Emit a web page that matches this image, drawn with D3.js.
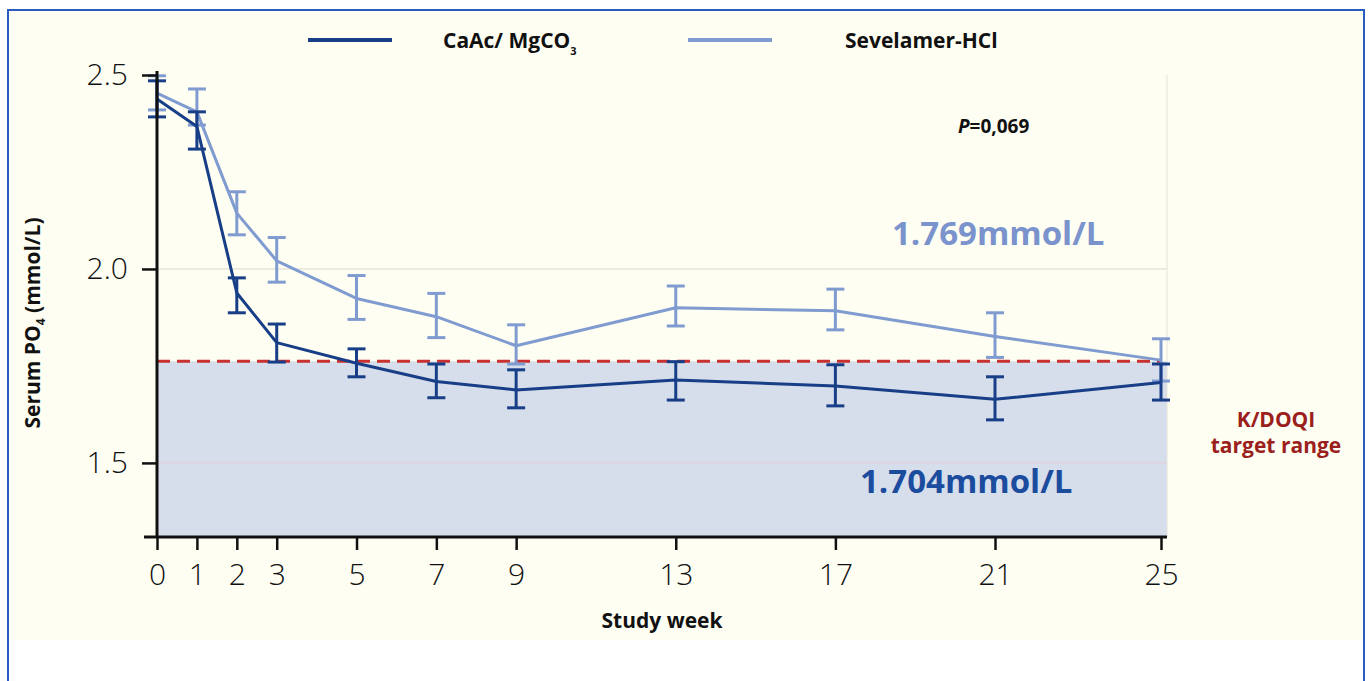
<!DOCTYPE html>
<html>
<head>
<meta charset="utf-8">
<script src="https://cdn.jsdelivr.net/npm/d3@7"></script>
<style>
  body { margin: 0; background: #fff; }
  svg { display: block; font-family: "Open Sans", "Liberation Sans", sans-serif; }
</style>
</head>
<body>
<div id="chart"></div>
<script>
// study weeks and serum phosphate (mmol/L)
const weeks = [0, 1, 2, 3, 5, 7, 9, 13, 17, 21, 25];
const caacMean  = [2.438, 2.367, 1.938, 1.810, 1.757, 1.710, 1.688, 1.714, 1.698, 1.664, 1.707];
const caacLow   = [2.392, 2.309, 1.887, 1.760, 1.722, 1.668, 1.642, 1.662, 1.647, 1.611, 1.662];
const caacHigh  = [2.485, 2.405, 1.977, 1.858, 1.794, 1.755, 1.740, 1.761, 1.753, 1.722, 1.755];
const sevMean   = [2.453, 2.405, 2.144, 2.021, 1.924, 1.877, 1.802, 1.900, 1.892, 1.826, 1.765];
const sevLow    = [2.410, 2.371, 2.088, 1.966, 1.870, 1.823, 1.755, 1.853, 1.843, 1.772, 1.711];
const sevHigh   = [2.498, 2.464, 2.199, 2.081, 1.983, 1.937, 1.856, 1.956, 1.948, 1.887, 1.820];
const yTicks = [1.5, 2.0, 2.5];
const targetLimit = 1.762;
const seriesNames = ["CaAc/ MgCO", "Sevelamer-HCl"];

const W = 1372, H = 681;
const DARK = "#173e86", LIGHT = "#7f9bcf";
const FONT = "'Open Sans', 'Liberation Sans', sans-serif";

const svg = d3.select("#chart").append("svg")
  .attr("width", W).attr("height", H);

// frame
svg.append("rect").attr("x", 9).attr("y", 11).attr("width", 1354).attr("height", 629)
  .attr("fill", "#fffef3");
svg.append("rect").attr("x", 8).attr("y", 10).attr("width", 1356).attr("height", 700)
  .attr("fill", "none").attr("stroke", "#2a5bbf").attr("stroke-width", 2);

// scales (last segment of the printed axis is a bit wider)
const x = d3.scaleLinear().domain([0, 21, 25]).range([157, 995, 1161]);
const y = d3.scaleLinear().domain([1.309, 2.5]).range([537, 75]);
const plotRight = 1167;

// target range shade
svg.append("rect")
  .attr("x", x(0)).attr("y", y(targetLimit))
  .attr("width", plotRight - x(0)).attr("height", y(1.309) - y(targetLimit))
  .attr("fill", "#d6deeb");

// grid lines
svg.append("line").attr("x1", x(0)).attr("x2", plotRight)
  .attr("y1", y(2.0)).attr("y2", y(2.0)).attr("stroke", "#d9d9cf").attr("stroke-width", 1);
svg.append("line").attr("x1", x(0)).attr("x2", plotRight)
  .attr("y1", y(1.5)).attr("y2", y(1.5)).attr("stroke", "#e6c9d2").attr("stroke-width", 1);
svg.append("line").attr("x1", plotRight).attr("x2", plotRight)
  .attr("y1", y(2.5)).attr("y2", y(1.309)).attr("stroke", "#e4e4dc").attr("stroke-width", 1);

// dashed target limit
svg.append("line").attr("x1", x(0)).attr("x2", x(25))
  .attr("y1", y(targetLimit)).attr("y2", y(targetLimit))
  .attr("stroke", "#c8312d").attr("stroke-width", 3).attr("stroke-dasharray", "13,7");

// series
function drawSeries(mean, low, high, color) {
  const g = svg.append("g");
  const line = d3.line().x((d, i) => x(weeks[i])).y(d => y(d));
  g.append("path").datum(mean).attr("d", line)
    .attr("fill", "none").attr("stroke", color).attr("stroke-width", 3)
    .attr("stroke-linejoin", "round");
  const bars = g.selectAll("g.err").data(weeks).enter().append("g")
    .attr("stroke", color).attr("stroke-width", 3);
  bars.append("line").attr("x1", d => x(d)).attr("x2", d => x(d))
    .attr("y1", (d, i) => y(low[i])).attr("y2", (d, i) => y(high[i]));
  bars.append("line").attr("x1", d => x(d) - 9).attr("x2", d => x(d) + 9)
    .attr("y1", (d, i) => y(low[i])).attr("y2", (d, i) => y(low[i]));
  bars.append("line").attr("x1", d => x(d) - 9).attr("x2", d => x(d) + 9)
    .attr("y1", (d, i) => y(high[i])).attr("y2", (d, i) => y(high[i]));
}
drawSeries(sevMean, sevLow, sevHigh, LIGHT);
drawSeries(caacMean, caacLow, caacHigh, DARK);

// axes
const xAxis = svg.append("g")
  .attr("transform", "translate(0," + y(1.309) + ")")
  .call(d3.axisBottom(x).tickValues(weeks).tickFormat(d3.format("d"))
    .tickSize(13).tickSizeOuter(0).tickPadding(14));
xAxis.attr("font-family", FONT);
xAxis.select(".domain").remove();
xAxis.selectAll(".tick line").attr("stroke", "#111").attr("stroke-width", 2.5);
xAxis.selectAll(".tick text").attr("font-size", 30).attr("font-weight", 300).attr("fill", "#111");
xAxis.append("line").attr("x1", 144).attr("x2", plotRight).attr("y1", 0).attr("y2", 0)
  .attr("stroke", "#111").attr("stroke-width", 3);

const yAxis = svg.append("g")
  .attr("transform", "translate(" + x(0) + ",0)")
  .call(d3.axisLeft(y).tickValues(yTicks).tickFormat(d3.format(".1f"))
    .tickSize(15).tickSizeOuter(0).tickPadding(14));
yAxis.attr("font-family", FONT);
yAxis.select(".domain").remove();
yAxis.selectAll(".tick line").attr("stroke", "#111").attr("stroke-width", 2.5);
yAxis.selectAll(".tick text").attr("font-size", 30).attr("font-weight", 300).attr("fill", "#111");
yAxis.append("line").attr("x1", 0).attr("x2", 0).attr("y1", y(2.5) - 4).attr("y2", y(1.309))
  .attr("stroke", "#111").attr("stroke-width", 3);

// axis titles
svg.append("text").attr("x", 662).attr("y", 628).attr("text-anchor", "middle")
  .attr("font-size", 21).attr("font-weight", "bold").attr("fill", "#111").text("Study week");

const yt = svg.append("text").attr("transform", "translate(40,323) rotate(-90)")
  .attr("text-anchor", "middle").attr("font-size", 21).attr("font-weight", "bold").attr("fill", "#111");
yt.append("tspan").text("Serum PO");
yt.append("tspan").attr("font-size", 12).attr("dy", 5).text("4");
yt.append("tspan").attr("dy", -5).text(" (mmol/L)");

// legend
const legend = [
  { x1: 308, tx: 443, color: DARK, name: seriesNames[0], sub: "3" },
  { x1: 688, tx: 845, color: LIGHT, name: seriesNames[1], sub: null }
];
legend.forEach(l => {
  svg.append("line").attr("x1", l.x1).attr("x2", l.x1 + 84).attr("y1", 40).attr("y2", 40)
    .attr("stroke", l.color).attr("stroke-width", 4);
  const t = svg.append("text").attr("x", l.tx).attr("y", 48)
    .attr("font-size", 21).attr("font-weight", "bold").attr("fill", "#111");
  t.append("tspan").text(l.name);
  if (l.sub) t.append("tspan").attr("font-size", 11).attr("dy", 7).text(l.sub);
});

// annotations
const p = svg.append("text").attr("x", 958).attr("y", 133)
  .attr("font-size", 19).attr("font-weight", "bold").attr("fill", "#111");
p.append("tspan").attr("font-style", "italic").text("P");
p.append("tspan").text("=0,069");

svg.append("text").attr("x", 892).attr("y", 245)
  .attr("font-size", 33).attr("font-weight", "bold").attr("fill", "#7b93cc").text("1.769mmol/L");
svg.append("text").attr("x", 860).attr("y", 493)
  .attr("font-size", 33).attr("font-weight", "bold").attr("fill", "#1c4c9e").text("1.704mmol/L");

svg.append("text").attr("x", 1276).attr("y", 427).attr("text-anchor", "middle")
  .attr("font-size", 21).attr("font-weight", "bold").attr("fill", "#9a1f1d").text("K/DOQI");
svg.append("text").attr("x", 1276).attr("y", 453).attr("text-anchor", "middle")
  .attr("font-size", 21).attr("font-weight", "bold").attr("fill", "#9a1f1d").text("target range");
</script>
</body>
</html>
